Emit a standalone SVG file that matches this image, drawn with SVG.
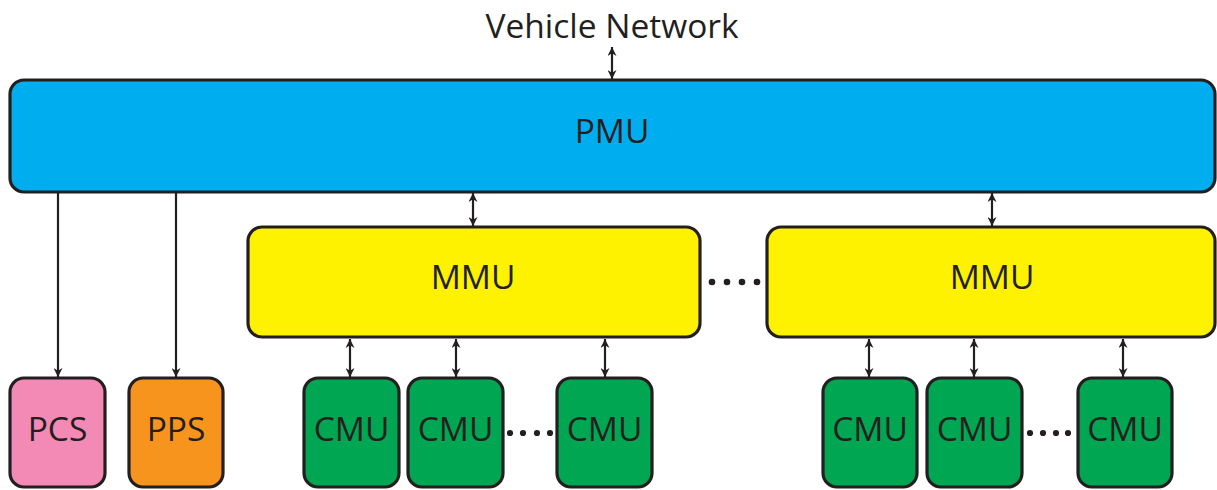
<svg xmlns="http://www.w3.org/2000/svg" width="1217" height="490" viewBox="0 0 1217 490">
<defs>
<style>
.box{stroke:#231f20;stroke-width:3.2}
.lbl{font-family:"Open Sans","Liberation Sans",sans-serif;font-size:33.5px;fill:#231f20;text-anchor:middle}
.conn{stroke:#231f20;stroke-width:2.2;fill:none}
.dot{fill:#231f20}
</style>
<marker id="ah" viewBox="0 0 10 10" refX="10" refY="5" markerWidth="10" markerHeight="9" markerUnits="userSpaceOnUse" orient="auto-start-reverse">
<path d="M0,0 L10,5 L0,10 L3,5 Z" fill="#231f20"/>
</marker>
</defs>
<rect width="1217" height="490" fill="#ffffff"/>

<g id="vehicle-network">
<text class="lbl" x="612" y="38">Vehicle Network</text>
</g>

<g id="pmu">
<rect class="box" x="10" y="80" width="1205" height="112" rx="14" fill="#00aeef"/>
<text class="lbl" x="612" y="143">PMU</text>
</g>

<g id="mmu1">
<rect class="box" x="248" y="227" width="452" height="110" rx="14" fill="#fff200"/>
<text class="lbl" x="473" y="289">MMU</text>
</g>

<g id="mmu2">
<rect class="box" x="767" y="227" width="448" height="110" rx="14" fill="#fff200"/>
<text class="lbl" x="992" y="289">MMU</text>
</g>

<g id="pcs">
<rect class="box" x="10" y="378" width="95" height="109" rx="14" fill="#f389b5"/>
<text class="lbl" x="57.5" y="441">PCS</text>
</g>
<g id="pps">
<rect class="box" x="129" y="378" width="94" height="109" rx="14" fill="#f7941d"/>
<text class="lbl" x="176" y="441">PPS</text>
</g>

<g id="cmu1">
<rect class="box" x="304" y="378" width="95" height="109" rx="14" fill="#00a651"/>
<text class="lbl" x="351.5" y="441">CMU</text>
</g>
<g id="cmu2">
<rect class="box" x="408" y="378" width="95" height="109" rx="14" fill="#00a651"/>
<text class="lbl" x="455.5" y="441">CMU</text>
</g>
<g id="cmu3">
<rect class="box" x="557" y="378" width="95" height="109" rx="14" fill="#00a651"/>
<text class="lbl" x="604.5" y="441">CMU</text>
</g>
<g id="cmu4">
<rect class="box" x="823" y="378" width="94" height="109" rx="14" fill="#00a651"/>
<text class="lbl" x="870" y="441">CMU</text>
</g>
<g id="cmu5">
<rect class="box" x="927" y="378" width="95" height="109" rx="14" fill="#00a651"/>
<text class="lbl" x="974.5" y="441">CMU</text>
</g>
<g id="cmu6">
<rect class="box" x="1078" y="378" width="94" height="109" rx="14" fill="#00a651"/>
<text class="lbl" x="1125" y="441">CMU</text>
</g>

<g id="ellipses">
<circle class="dot" cx="712" cy="282" r="3.3"/>
<circle class="dot" cx="727" cy="282" r="3.3"/>
<circle class="dot" cx="742" cy="282" r="3.3"/>
<circle class="dot" cx="757" cy="282" r="3.3"/>
<circle class="dot" cx="510" cy="433" r="3.1"/>
<circle class="dot" cx="523" cy="433" r="3.1"/>
<circle class="dot" cx="537" cy="433" r="3.1"/>
<circle class="dot" cx="550" cy="433" r="3.1"/>
<circle class="dot" cx="1030" cy="433" r="3.1"/>
<circle class="dot" cx="1043" cy="433" r="3.1"/>
<circle class="dot" cx="1056" cy="433" r="3.1"/>
<circle class="dot" cx="1068" cy="433" r="3.1"/>
</g>

<g id="connectors">
<line class="conn" x1="612" y1="47" x2="612" y2="79" marker-start="url(#ah)" marker-end="url(#ah)"/>
<line class="conn" x1="473" y1="193" x2="473" y2="226" marker-start="url(#ah)" marker-end="url(#ah)"/>
<line class="conn" x1="992" y1="193" x2="992" y2="226" marker-start="url(#ah)" marker-end="url(#ah)"/>
<line class="conn" x1="58" y1="193" x2="58" y2="377" marker-end="url(#ah)"/>
<line class="conn" x1="176" y1="193" x2="176" y2="377" marker-end="url(#ah)"/>
<line class="conn" x1="350" y1="339" x2="350" y2="377" marker-start="url(#ah)" marker-end="url(#ah)"/>
<line class="conn" x1="456" y1="339" x2="456" y2="377" marker-start="url(#ah)" marker-end="url(#ah)"/>
<line class="conn" x1="605" y1="339" x2="605" y2="377" marker-start="url(#ah)" marker-end="url(#ah)"/>
<line class="conn" x1="869" y1="339" x2="869" y2="377" marker-start="url(#ah)" marker-end="url(#ah)"/>
<line class="conn" x1="974" y1="339" x2="974" y2="377" marker-start="url(#ah)" marker-end="url(#ah)"/>
<line class="conn" x1="1123" y1="339" x2="1123" y2="377" marker-start="url(#ah)" marker-end="url(#ah)"/>
</g>
</svg>
